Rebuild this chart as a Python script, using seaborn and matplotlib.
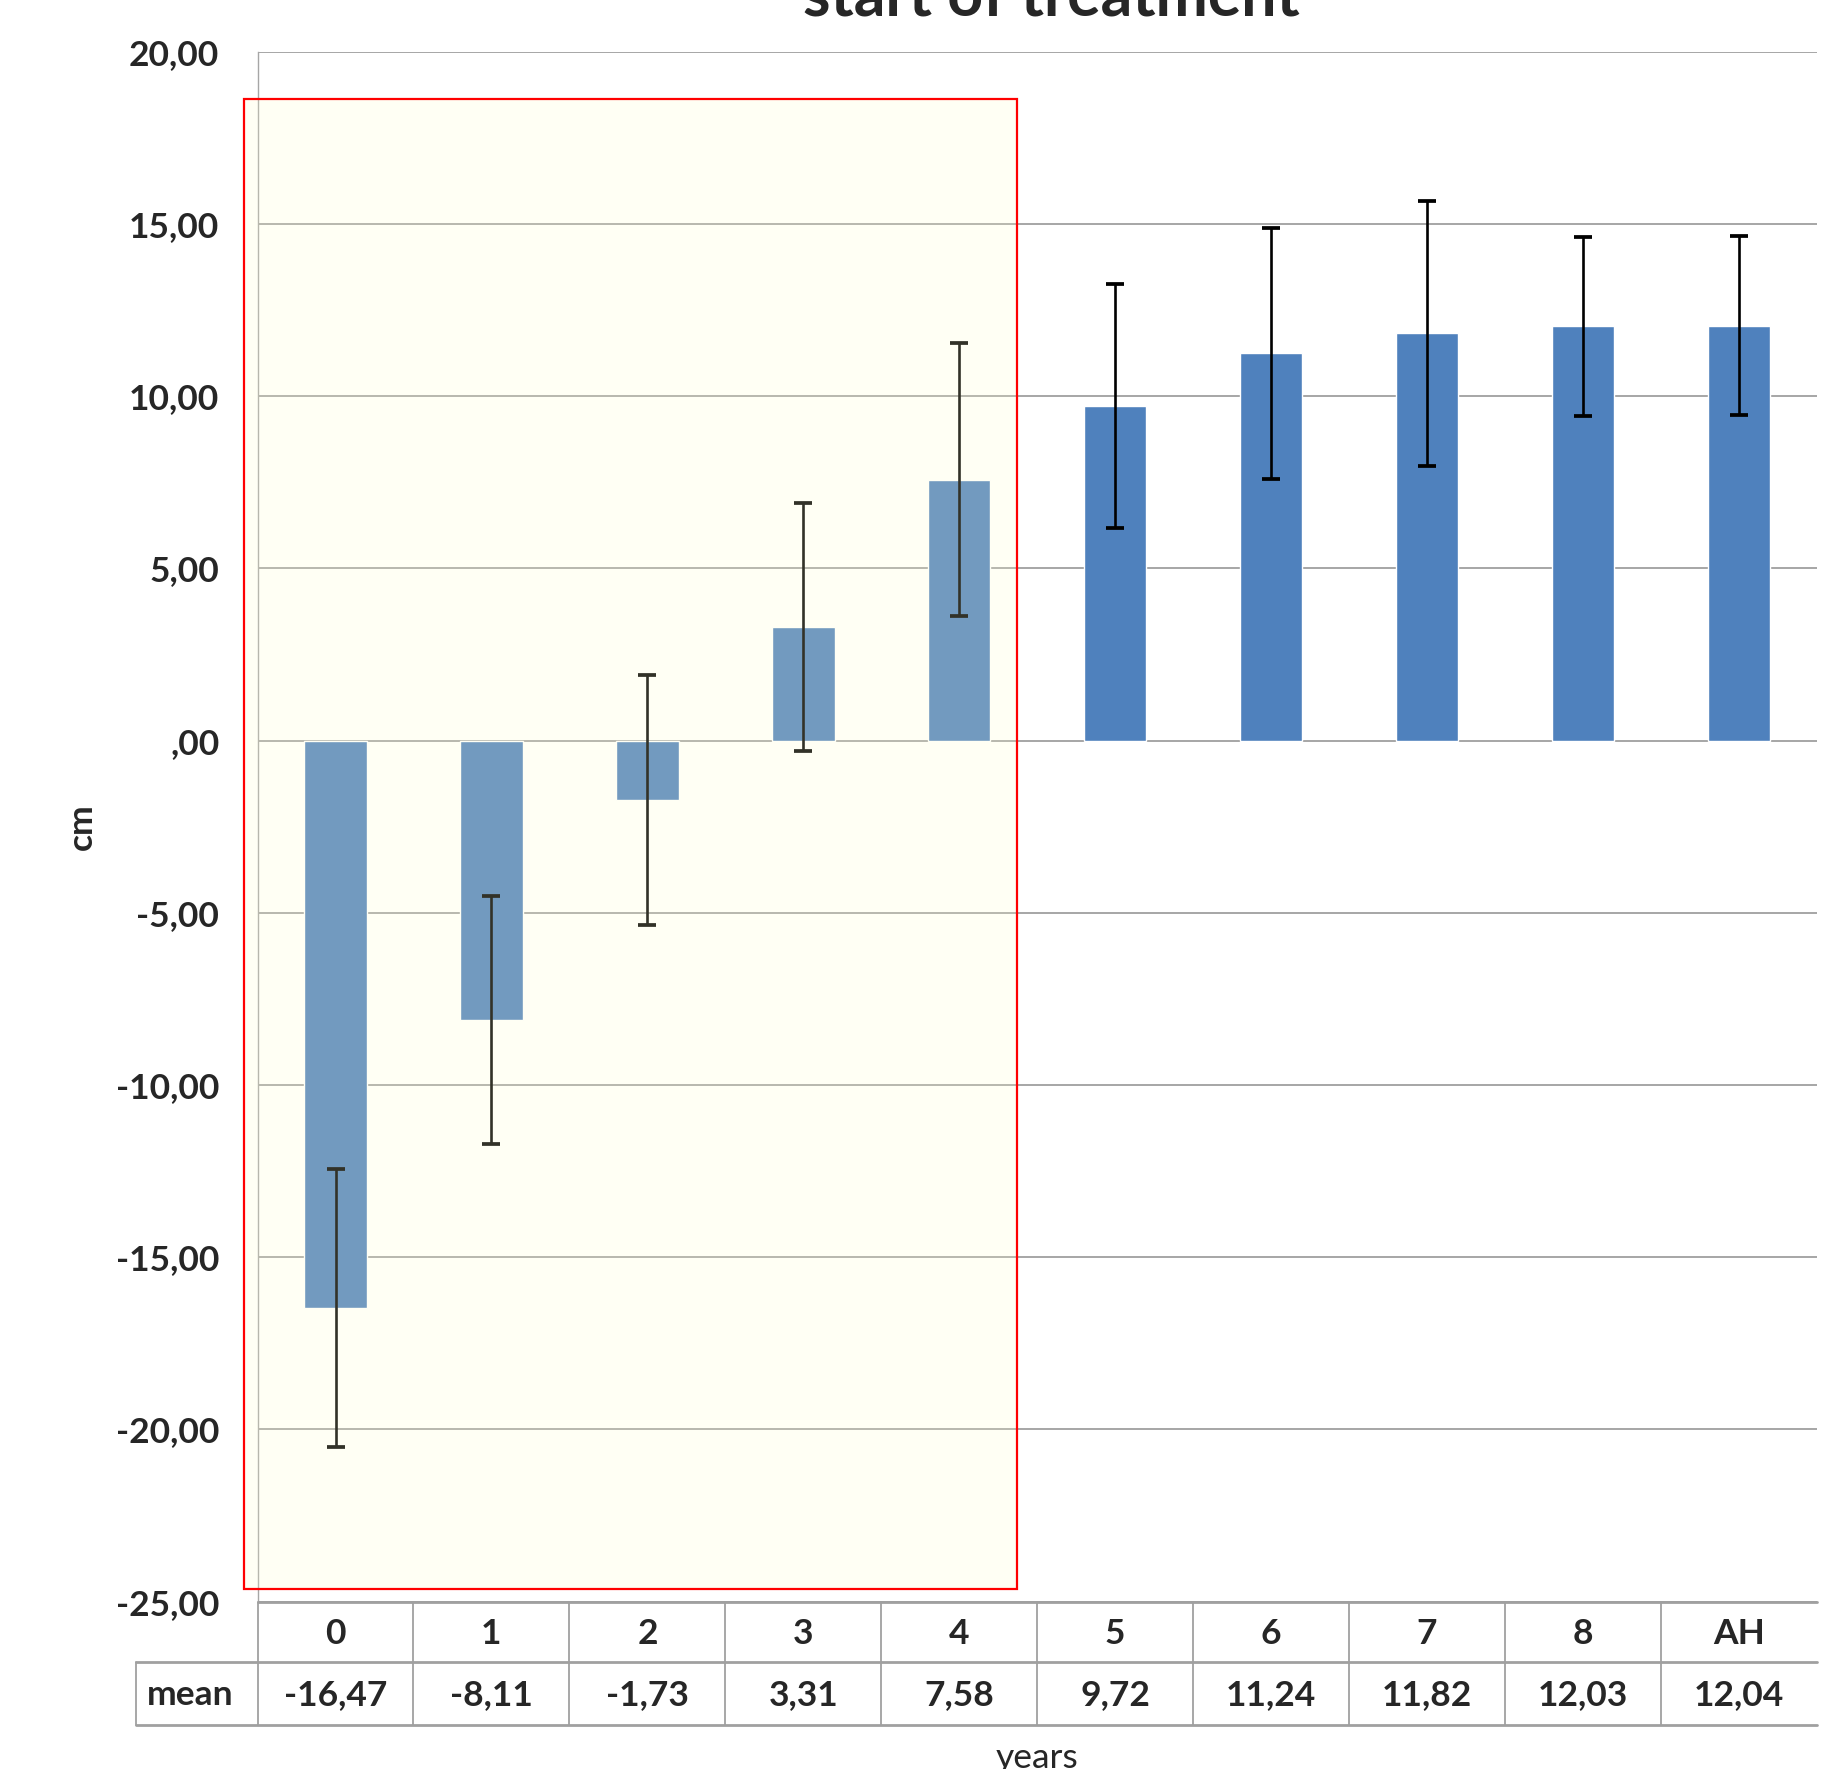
import numpy as np
import pandas as pd
import seaborn as sns
import matplotlib.pyplot as plt
from matplotlib.patches import Rectangle
from matplotlib.transforms import blended_transform_factory

YEARS = ['0', '1', '2', '3', '4', '5', '6', '7', '8', 'AH']
MEANS = [-16.47, -8.11, -1.73, 3.31, 7.58, 9.72, 11.24, 11.82, 12.03, 12.04]
SDS = [4.04, 3.59, 3.62, 3.60, 3.96, 3.55, 3.65, 3.85, 2.60, 2.60]
Y_TICKS = [-25, -20, -15, -10, -5, 0, 5, 10, 15, 20]

BAR_COLOR = '#4F81BD'
GRID_COLOR = '#A6A6A6'
FONTSIZE = 25.5


def fmt_comma(v):
    s = f'{v:.2f}'.replace('.', ',')
    return s[1:] if s.startswith('0,') else s


sns.set_theme(style='white')
plt.rcParams['font.family'] = ['Lato', 'DejaVu Sans']

df = pd.DataFrame({'year': YEARS, 'mean': MEANS, 'sd': SDS})

fig = plt.figure(figsize=(18.28, 17.69), dpi=100)
ax = fig.add_axes([0.1409, 0.09457, 0.9939 - 0.1409, 0.97077 - 0.09457])

sns.barplot(data=df, x='year', y='mean', order=YEARS, color=BAR_COLOR,
            saturation=1, width=0.4, errorbar=None, ax=ax, zorder=2)
ax.errorbar(np.arange(len(YEARS)), df['mean'], yerr=df['sd'], fmt='none',
            ecolor='black', elinewidth=1.9, capsize=6.5, capthick=2.7, zorder=3)

ax.set_xlim(-0.5, len(YEARS) - 0.5)
ax.set_ylim(-25, 20)
ax.set_yticks(Y_TICKS, labels=[fmt_comma(t) for t in Y_TICKS],
              fontsize=FONTSIZE, fontweight='bold')
ax.set_xticks(range(len(YEARS)), labels=[''] * len(YEARS))
ax.tick_params(axis='x', length=0)
ax.tick_params(axis='y', length=9.5, width=1.3, color=GRID_COLOR, pad=18)
ax.set_axisbelow(True)
ax.yaxis.grid(True, color=GRID_COLOR, linewidth=1.4)
ax.xaxis.grid(False)
for side in ['top', 'right', 'bottom']:
    ax.spines[side].set_visible(False)
ax.spines['left'].set_color(GRID_COLOR)
ax.spines['left'].set_linewidth(1.0)

# highlighted years (overlay + red frame)
box = (-0.59, -24.63, 4.37 + 0.59, 18.62 + 24.63)
ax.add_patch(Rectangle(box[:2], box[2], box[3], facecolor=(1, 1, 0.8),
                       alpha=0.2, edgecolor='none', zorder=5, clip_on=False))
ax.add_patch(Rectangle(box[:2], box[2], box[3], fill=False,
                       edgecolor='#FF0000', linewidth=1.6, zorder=6, clip_on=False))

# data table under the axis
tr = blended_transform_factory(ax.transData, ax.transAxes)
row_y = [0, -0.0387, -0.0795]
mean_left = -1.28
line_kw = dict(color='#A0A0A0', transform=tr, clip_on=False, zorder=4)
ax.plot([-0.5, len(YEARS) - 0.5], [row_y[0]] * 2, lw=2.0, **line_kw)
ax.plot([mean_left, len(YEARS) - 0.5], [row_y[1]] * 2, lw=2.0, **line_kw)
ax.plot([mean_left, len(YEARS) - 0.5], [row_y[2]] * 2, lw=2.0, **line_kw)
for i in range(len(YEARS)):
    ax.plot([i - 0.5] * 2, [row_y[0], row_y[2]], lw=1.3, **line_kw)
ax.plot([mean_left] * 2, [row_y[1], row_y[2]], lw=1.3, **line_kw)

for i, (yr, m) in enumerate(zip(YEARS, MEANS)):
    ax.text(i, -0.0272, yr, transform=tr, ha='center', va='baseline',
            fontsize=FONTSIZE, fontweight='bold')
    ax.text(i, -0.0665, fmt_comma(m), transform=tr, ha='center', va='baseline',
            fontsize=FONTSIZE, fontweight='bold')
ax.text((mean_left - 0.5) / 2 - 0.04, -0.0665, 'mean', transform=tr, ha='center',
        va='baseline', fontsize=FONTSIZE, fontweight='bold')

ax.set_xlabel('years', fontsize=FONTSIZE)
ax.xaxis.label.set_va('baseline')
ax.xaxis.set_label_coords(0.5, -0.107)
ax.set_ylabel('cm', fontsize=FONTSIZE, fontweight='bold')
ax.yaxis.label.set_va('center')
ax.yaxis.set_label_coords(-0.1126, 0.5)

ax.set_title('start of treatment', fontsize=45, fontweight='bold', pad=25)
ax.title.set_x(0.509)

fig.savefig('out.png', dpi=100)
